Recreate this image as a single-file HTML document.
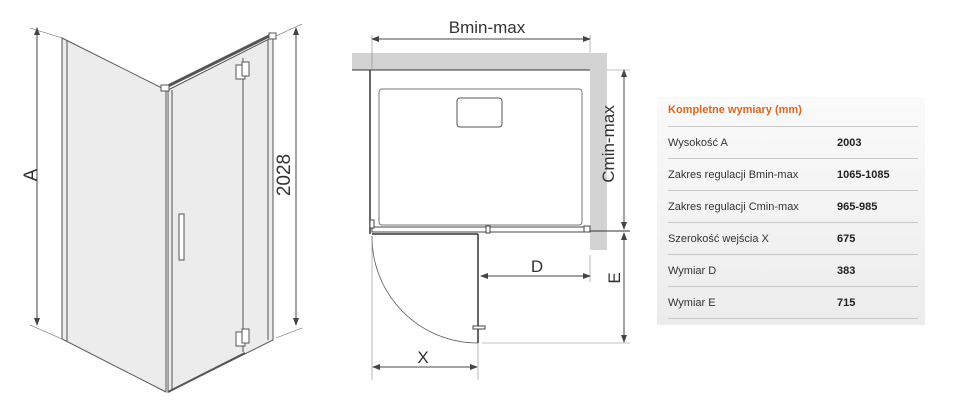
<!DOCTYPE html>
<html><head><meta charset="utf-8"><style>
html,body{margin:0;padding:0;background:#fff;width:960px;height:412px;overflow:hidden}
svg{position:absolute;left:0;top:0}
.tb{position:absolute;left:657px;top:97px;width:268px;height:228px;background:linear-gradient(#fafafa,#ececec);font-family:"Liberation Sans",sans-serif;font-size:11px;color:#333}
.tb .t{position:absolute;left:11px;top:7px;color:#e0641e;font-weight:bold;font-size:11px}
.tb .r{position:absolute;left:11px;width:250px;height:32px;border-top:1px solid #c8c8c8;line-height:32px}
.tb .r b{position:absolute;left:169px;color:#222}
.tb .e{position:absolute;left:11px;top:221px;width:250px;border-top:1px solid #c8c8c8}
</style></head><body>
<svg width="960" height="412" viewBox="0 0 960 412" font-family="Liberation Sans, sans-serif">
<defs><marker id="a" markerWidth="8" markerHeight="8" refX="7" refY="4" orient="auto-start-reverse"><path d="M0,1 L8,4 L0,7 z" fill="#444"/></marker></defs>
<!-- isometric -->
<polygon points="62,38 166,90 166,392 62,339" fill="#ececec" stroke="#555"/>
<polygon points="168,90 273,37 273,340 168,392" fill="#ececec" stroke="#555"/>
<line x1="67" y1="40" x2="67" y2="341" stroke="#555"/>
<line x1="172" y1="90" x2="172" y2="390" stroke="#555"/>
<line x1="268" y1="40" x2="268" y2="340" stroke="#555"/>
<line x1="243" y1="58" x2="243" y2="352" stroke="#555"/>
<line x1="168" y1="86" x2="273" y2="34" stroke="#555" stroke-width="3"/>
<line x1="168" y1="392" x2="245" y2="353" stroke="#555" stroke-width="2"/>
<rect x="236" y="65" width="9" height="14" fill="#fff" stroke="#555"/>
<rect x="242" y="62" width="7" height="14" fill="#fff" stroke="#555"/>
<rect x="236" y="332" width="9" height="14" fill="#fff" stroke="#555"/>
<rect x="242" y="329" width="7" height="14" fill="#fff" stroke="#555"/>
<rect x="179" y="214" width="5" height="46" fill="#fff" stroke="#555"/>
<rect x="161" y="85" width="8" height="6" fill="#fff" stroke="#555"/>
<rect x="269" y="33" width="7" height="6" fill="#fff" stroke="#555"/>
<line x1="37" y1="28" x2="37" y2="325" stroke="#444" marker-start="url(#a)" marker-end="url(#a)"/>
<line x1="30" y1="28" x2="62" y2="38" stroke="#666" stroke-width=".6"/>
<line x1="30" y1="325" x2="62" y2="339" stroke="#666" stroke-width=".6"/>
<text x="44" y="182" font-size="19" fill="#333" text-anchor="middle" transform="rotate(-90 37 182)">A</text>
<line x1="296" y1="28" x2="296" y2="325" stroke="#444" marker-start="url(#a)" marker-end="url(#a)"/>
<line x1="276" y1="36" x2="302" y2="24" stroke="#666" stroke-width=".6"/>
<line x1="276" y1="338" x2="302" y2="328" stroke="#666" stroke-width=".6"/>
<text x="297" y="182" font-size="19" fill="#333" text-anchor="middle" transform="rotate(-90 290 182)">2028</text>
<!-- plan -->
<rect x="352" y="53" width="255" height="17" fill="#d3d3d3"/>
<rect x="590" y="53" width="17" height="197" fill="#d3d3d3"/>
<line x1="352" y1="70" x2="590" y2="70" stroke="#333"/>
<line x1="370" y1="70" x2="370" y2="234" stroke="#333" stroke-width="1.5"/>
<rect x="379" y="89" width="203" height="136" rx="3" fill="none" stroke="#777"/>
<rect x="457" y="98" width="45" height="29" rx="3" fill="none" stroke="#555"/>
<rect x="372" y="227" width="216" height="5" fill="#fff" stroke="#444"/>
<rect x="584" y="226" width="6" height="6" fill="#fff" stroke="#444"/>
<rect x="370" y="220" width="4" height="8" fill="#fff" stroke="#444"/>
<rect x="486" y="226" width="4" height="7" fill="#fff" stroke="#444"/>
<line x1="372" y1="234" x2="478" y2="234" stroke="#333" stroke-width="1.5"/>
<line x1="478" y1="234" x2="478" y2="343" stroke="#333" stroke-width="1.5"/>
<rect x="473" y="326" width="12" height="3" fill="#fff" stroke="#444"/>
<path d="M372,236 A106,106 0 0 0 478,343" fill="none" stroke="#555" stroke-width=".8"/>
<line x1="372" y1="35" x2="372" y2="70" stroke="#888" stroke-width=".6"/>
<line x1="590" y1="35" x2="590" y2="53" stroke="#888" stroke-width=".6"/>
<line x1="372" y1="39" x2="590" y2="39" stroke="#444" marker-start="url(#a)" marker-end="url(#a)"/>
<text x="487" y="33" font-size="17" fill="#333" text-anchor="middle">Bmin-max</text>
<line x1="607" y1="70" x2="630" y2="70" stroke="#888" stroke-width=".6"/>
<line x1="590" y1="231" x2="630" y2="231" stroke="#333"/>
<line x1="482" y1="343" x2="630" y2="343" stroke="#888" stroke-width=".6"/>
<line x1="624" y1="70" x2="624" y2="229" stroke="#444" marker-start="url(#a)" marker-end="url(#a)"/>
<line x1="624" y1="233" x2="624" y2="342" stroke="#444" marker-start="url(#a)" marker-end="url(#a)"/>
<text x="620" y="150" font-size="17" fill="#333" text-anchor="middle" transform="rotate(-90 614 150)">Cmin-max</text>
<text x="620" y="290" font-size="17" fill="#333" text-anchor="middle" transform="rotate(-90 614 284)">E</text>
<line x1="590" y1="255" x2="590" y2="282" stroke="#888" stroke-width=".6"/>
<line x1="481" y1="276" x2="590" y2="276" stroke="#444" marker-start="url(#a)" marker-end="url(#a)"/>
<text x="537" y="272" font-size="17" fill="#333" text-anchor="middle">D</text>
<line x1="372" y1="238" x2="372" y2="380" stroke="#888" stroke-width=".6"/>
<line x1="478" y1="343" x2="478" y2="380" stroke="#888" stroke-width=".6"/>
<line x1="373" y1="367" x2="477" y2="367" stroke="#444" marker-start="url(#a)" marker-end="url(#a)"/>
<text x="423" y="363" font-size="17" fill="#333" text-anchor="middle">X</text>
</svg>
<div class="tb">
<div class="t">Kompletne wymiary (mm)</div>
<div class="r" style="top:29px">Wysokość A<b>2003</b></div>
<div class="r" style="top:61px">Zakres regulacji Bmin-max<b>1065-1085</b></div>
<div class="r" style="top:93px">Zakres regulacji Cmin-max<b>965-985</b></div>
<div class="r" style="top:125px">Szerokość wejścia X<b>675</b></div>
<div class="r" style="top:157px">Wymiar D<b>383</b></div>
<div class="r" style="top:189px">Wymiar E<b>715</b></div>
<div class="e"></div>
</div>
</body></html>
